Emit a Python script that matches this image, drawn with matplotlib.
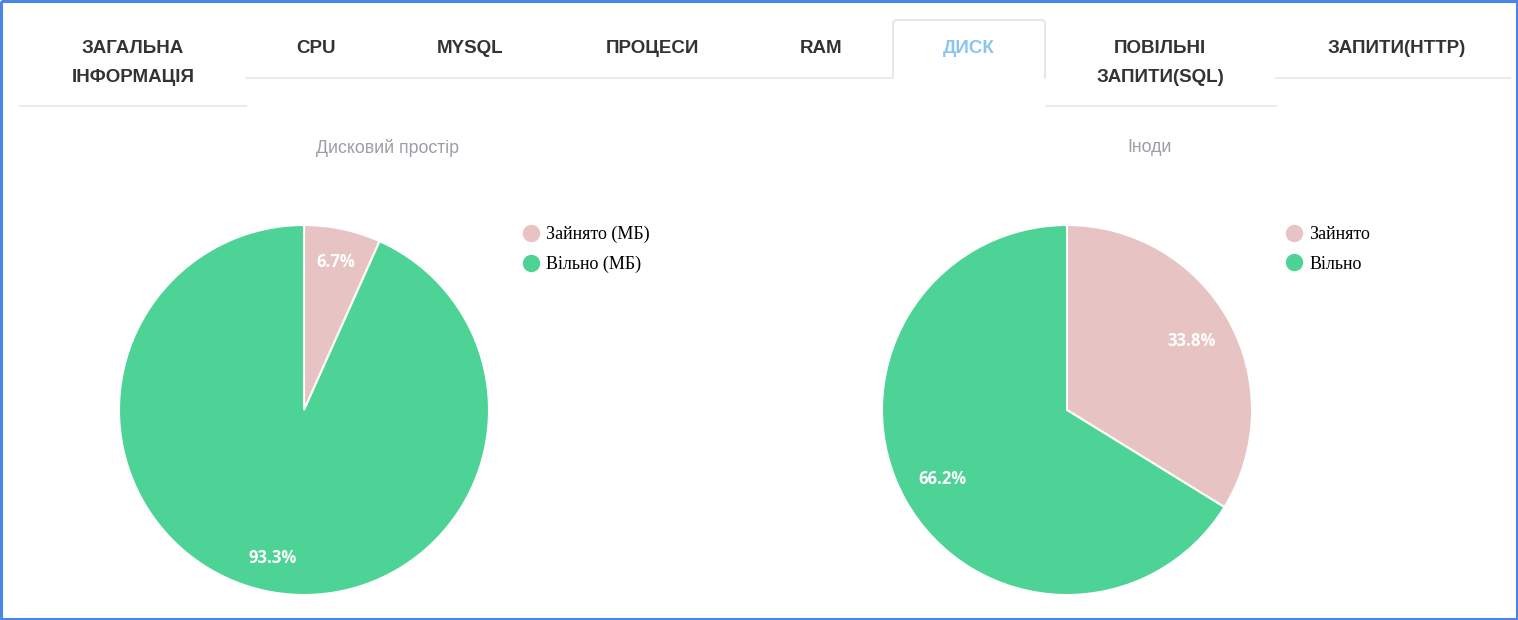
import matplotlib
matplotlib.use("Agg")
import matplotlib.pyplot as plt
from matplotlib.lines import Line2D
from matplotlib.patches import FancyBboxPatch

# ---- data ----
tabs = ["ЗАГАЛЬНА\nІНФОРМАЦІЯ", "CPU", "MYSQL", "ПРОЦЕСИ", "RAM", "ДИСК", "ПОВІЛЬНІ\nЗАПИТИ(SQL)", "ЗАПИТИ(HTTP)"]
active_tab = "ДИСК"

disk_title = "Дисковий простір"
disk_labels = ["Зайнято (МБ)", "Вільно (МБ)"]
disk_values = [6.7, 93.3]

inode_title = "Іноди"
inode_labels = ["Зайнято", "Вільно"]
inode_values = [33.8, 66.2]

colors = ["#e8c3c4", "#4cd395"]

W, H = 1518, 620
fig = plt.figure(figsize=(W / 100, H / 100), dpi=100)
fig.patch.set_facecolor("white")

# overlay axes in pixel coordinates
ov = fig.add_axes([0, 0, 1, 1])
ov.set_xlim(0, W)
ov.set_ylim(H, 0)
ov.axis("off")

# outer blue frame
ov.plot([1, W - 1, W - 1, 1, 1], [1, 1, H - 1, H - 1, 1], color="#4a86e8", lw=2.2, solid_capstyle="butt")

line_col = "#ebebeb"
# underlines
ov.plot([20, 246], [106, 106], color=line_col, lw=1.5)
ov.plot([246, 893], [78, 78], color=line_col, lw=1.5)
ov.plot([1046, 1276], [106, 106], color=line_col, lw=1.5)
ov.plot([1276, 1510], [78, 78], color=line_col, lw=1.5)
# active tab box (open at the bottom)
box = FancyBboxPatch((893, 20), 152, 70, boxstyle="round,pad=0,rounding_size=4",
                     fc="white", ec="#e3e3e3", lw=1.2)
ov.add_patch(box)
ov.fill_between([892, 1046], 78.5, 95, color="white", lw=0)

# tab positions (centres)
tab_x = [133, 316, 470, 652, 821, 969, 1160, 1397]
for t, x in zip(tabs, tab_x):
    col = "#8cc4f0" if t == active_tab else "#333333"
    two = "\n" in t
    ov.text(x, 48.5 if not two else 63, t, ha="center", va="center", fontsize=13.5,
            fontweight="bold", color=col, family="Liberation Sans", linespacing=1.85)


def draw_pie(cx, cy, r, values, labels, title, title_x, pctd, leg_x):
    ax = fig.add_axes([(cx - r) / W, (H - cy - r) / H, 2 * r / W, 2 * r / H])
    wedges, _, autotexts = ax.pie(values, colors=colors, startangle=90, counterclock=False,
                                  autopct="%.1f%%", pctdistance=pctd,
                                  wedgeprops=dict(edgecolor="white", linewidth=1.5))
    for a in autotexts:
        a.set_color("white")
        a.set_fontweight("bold")
        a.set_fontsize(12)
        a.set_family("Open Sans")
    ax.set_xlim(-1, 1)
    ax.set_ylim(-1, 1)
    ax.set_aspect("equal")
    ov.text(title_x, 148, title, ha="center", va="center", fontsize=12.8, color="#9a9ea5",
            family="Liberation Sans")
    handles = [Line2D([], [], marker="o", linestyle="", markersize=11.5, color=c) for c in colors]
    fig.legend(handles, labels, loc="upper left",
               bbox_to_anchor=((leg_x) / W, 1 - 226 / H), frameon=False,
               prop=dict(family="Liberation Serif", size=13), handletextpad=0.25,
               labelspacing=0.7, borderaxespad=0, borderpad=0, handlelength=1.15)


draw_pie(304, 410, 185, disk_values, disk_labels, disk_title, 387, 0.82, 521)
draw_pie(1067, 410, 185, inode_values, inode_labels, inode_title, 1150, 0.77, 1284)

fig.savefig("out.png", dpi=100, facecolor="white")
